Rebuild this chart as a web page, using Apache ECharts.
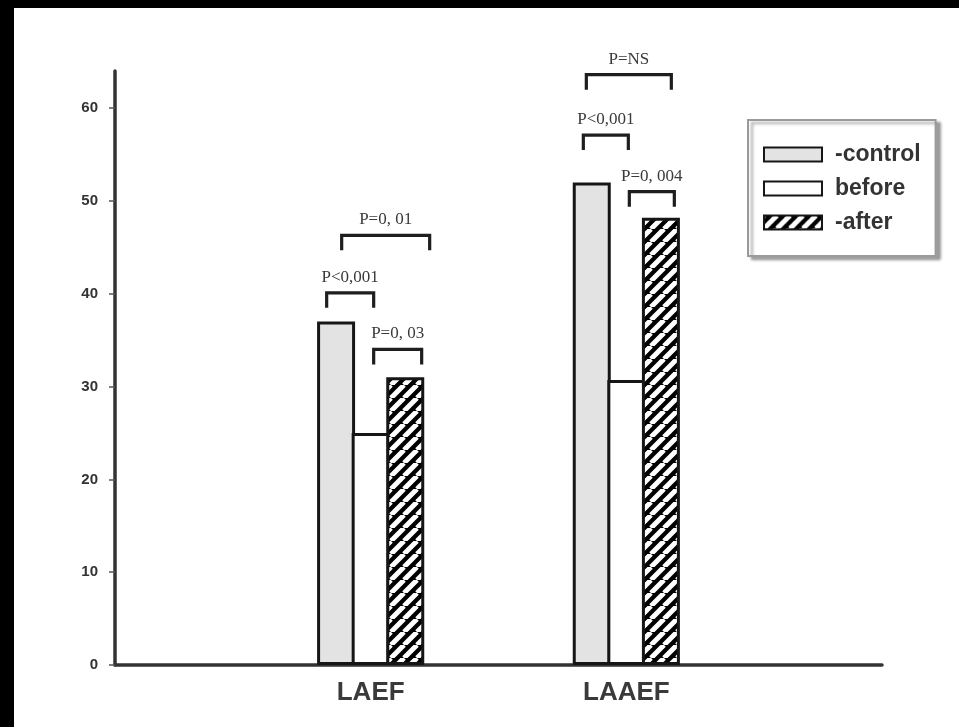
<!DOCTYPE html>
<html>
<head>
<meta charset="utf-8">
<script src="https://cdn.jsdelivr.net/npm/echarts@6/dist/echarts.min.js"></script>
<style>
  html, body { margin: 0; padding: 0; background: #000; width: 959px; height: 727px; overflow: hidden; }
  #chart { position: absolute; left: 14px; top: 8px; width: 945px; height: 719px; background: #fff; }
</style>
</head>
<body>
<div id="chart"></div>
<script>
// Ejection fractions (%) per group
const categories = ['LAEF', 'LAAEF'];
const seriesNames = ['-control', 'before', '-after'];
const controlValues = [37, 52];
const beforeValues = [25, 30.7];
const afterValues = [31, 48.2];
const yTicks = [0, 10, 20, 30, 40, 50, 60];

// Significance brackets: category, bracket height (axis units), label
const comparisonCats = ['LAEF', 'LAEF', 'LAEF', 'LAAEF', 'LAAEF', 'LAAEF'];
const comparisonLevels = [40.1, 46.3, 34.0, 63.6, 57.1, 51.0];
const comparisonLabels = ['P<0,001', 'P=0, 01', 'P=0, 03', 'P=NS', 'P<0,001', 'P=0, 004'];

// Horizontal extent of each bracket, in px from the group centre
const bracketSpans = [[-44, 3], [-29, 59], [3, 51], [-40, 45], [-43, 2], [3, 48]];

// Padded axis: one empty slot at each end keeps the groups at 1/3 and 2/3 of the axis
const axisCats = [''].concat(categories, ['']);
const pad = arr => [null].concat(arr, [null]);

function hatchPattern() {
  const s = 13;
  const c = document.createElement('canvas');
  c.width = c.height = s;
  const g = c.getContext('2d');
  g.fillStyle = '#000';
  g.fillRect(0, 0, s, s);
  g.strokeStyle = '#fff';
  g.lineWidth = 5;
  g.beginPath();
  for (let k = -1; k <= 1; k++) {
    g.moveTo(k * s, s);
    g.lineTo(k * s + s, 0);
  }
  g.stroke();
  return c;
}

const edge = '#161616';
// neighbouring bars share their outlines
const barBase = { type: 'bar', barWidth: 38, barGap: '-9%', z: 2 };

const chart = echarts.init(document.getElementById('chart'), null, { renderer: 'canvas' });

chart.setOption({
  backgroundColor: '#fff',
  animation: false,
  grid: { left: 101, right: 77, top: 63, bottom: 62, containLabel: false },
  legend: {
    data: seriesNames,
    orient: 'vertical',
    left: 734,
    top: 112,
    padding: [23, 15, 22, 15],
    itemGap: 11,
    itemWidth: 58,
    itemHeight: 14,
    icon: 'rect',
    backgroundColor: '#fff',
    borderColor: '#9a9a9a',
    borderWidth: 2,
    shadowColor: 'rgba(0,0,0,0.35)',
    shadowBlur: 3,
    shadowOffsetX: 4,
    shadowOffsetY: 3,
    textStyle: {
      fontFamily: 'Liberation Sans, Arial, sans-serif',
      fontWeight: 'bold',
      fontSize: 23,
      lineHeight: 20,
      color: '#333',
      padding: [0, 0, 0, 8]
    }
  },
  xAxis: {
    type: 'category',
    data: axisCats,
    boundaryGap: false,
    axisLine: { lineStyle: { color: '#333', width: 3.5 } },
    axisTick: { show: false },
    axisLabel: {
      interval: 0,
      margin: 15,
      fontFamily: 'Liberation Sans, Arial, sans-serif',
      fontWeight: 'bold',
      fontSize: 26,
      color: '#3a3a3a'
    },
    splitLine: { show: false }
  },
  yAxis: {
    type: 'value',
    min: 0,
    max: 64,
    axisLine: { show: true, lineStyle: { color: '#333', width: 3.5 } },
    axisTick: { show: true, length: 6, customValues: yTicks, lineStyle: { color: '#555', width: 1.5 } },
    axisLabel: {
      customValues: yTicks,
      margin: 17,
      fontFamily: 'Liberation Sans, Arial, sans-serif',
      fontWeight: 'bold',
      fontSize: 15,
      color: '#333'
    },
    splitLine: { show: false }
  },
  series: [
    Object.assign({}, barBase, {
      name: seriesNames[0],
      data: pad(controlValues),
      itemStyle: { color: '#e3e3e3', borderColor: edge, borderWidth: 3 }
    }),
    Object.assign({}, barBase, {
      name: seriesNames[1],
      data: pad(beforeValues),
      itemStyle: { color: '#fff', borderColor: edge, borderWidth: 3 }
    }),
    Object.assign({}, barBase, {
      name: seriesNames[2],
      data: pad(afterValues),
      itemStyle: { color: { image: hatchPattern(), repeat: 'repeat' }, borderColor: edge, borderWidth: 3 }
    }),
    {
      type: 'custom',
      name: 'significance',
      clip: false,
      z: 5,
      silent: true,
      data: comparisonCats.map((c, i) => [categories.indexOf(c) + 1, comparisonLevels[i]]),
      renderItem(params, api) {
        const p = api.coord([api.value(0), api.value(1)]);
        const span = bracketSpans[params.dataIndex];
        const x0 = p[0] + span[0];
        const x1 = p[0] + span[1];
        const y = p[1];
        return {
          type: 'group',
          children: [
            {
              type: 'polyline',
              shape: { points: [[x0, y + 15], [x0, y], [x1, y], [x1, y + 15]] },
              style: { stroke: '#1e1e1e', lineWidth: 3.2, fill: null }
            },
            {
              type: 'text',
              x: (x0 + x1) / 2,
              y: y - 7,
              style: {
                text: comparisonLabels[params.dataIndex],
                align: 'center',
                verticalAlign: 'bottom',
                textAlign: 'center',
                textVerticalAlign: 'bottom',
                font: '17px "Liberation Serif", serif',
                fill: '#3a3a3a'
              }
            }
          ]
        };
      }
    }
  ]
});
</script>
</body>
</html>
